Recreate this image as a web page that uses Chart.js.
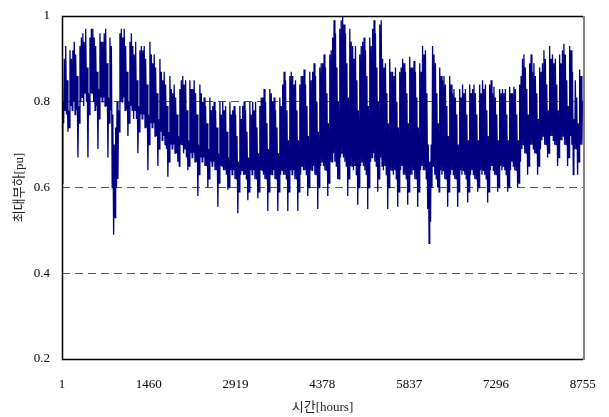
<!DOCTYPE html>
<html>
<head>
<meta charset="utf-8">
<script src="https://cdn.jsdelivr.net/npm/chart.js@4"></script>
<style>
html,body{margin:0;padding:0;background:#fff;}
#wrap{width:609px;height:417px;position:relative;}
</style>
</head>
<body>
<div id="wrap"><canvas id="c" width="609" height="417"></canvas></div>
<script>
// Daily peak load [pu], one row per week (Wed..Tue)
const dayPeak = [
0.80,0.90,0.93,0.85,0.78,0.92,0.90,
0.92,0.94,0.91,0.86,0.79,0.93,0.95,
0.96,0.94,0.97,0.88,0.82,0.95,0.97,
0.97,0.95,0.93,0.87,0.83,0.96,0.94,
0.94,0.96,0.97,0.89,0.81,0.95,0.93,
0.77,0.70,0.74,0.80,0.78,0.96,0.97,
0.95,0.97,0.93,0.87,0.80,0.94,0.96,
0.93,0.91,0.94,0.85,0.79,0.92,0.93,
0.92,0.93,0.90,0.84,0.77,0.94,0.91,
0.89,0.91,0.88,0.82,0.76,0.90,0.87,
0.85,0.87,0.84,0.79,0.73,0.86,0.83,
0.82,0.84,0.81,0.77,0.72,0.83,0.85,
0.86,0.84,0.85,0.78,0.71,0.85,0.83,
0.83,0.85,0.82,0.77,0.70,0.84,0.82,
0.80,0.81,0.79,0.75,0.69,0.81,0.78,
0.79,0.80,0.78,0.74,0.68,0.80,0.77,
0.80,0.78,0.79,0.73,0.67,0.80,0.77,
0.78,0.79,0.77,0.72,0.66,0.79,0.76,
0.79,0.80,0.78,0.73,0.67,0.80,0.77,
0.80,0.78,0.80,0.74,0.68,0.79,0.81,
0.81,0.83,0.80,0.75,0.69,0.83,0.82,
0.80,0.81,0.78,0.74,0.68,0.81,0.79,
0.84,0.87,0.85,0.78,0.71,0.86,0.87,
0.86,0.84,0.85,0.78,0.71,0.84,0.86,
0.86,0.875,0.84,0.79,0.72,0.87,0.85,
0.87,0.89,0.86,0.80,0.73,0.88,0.89,
0.89,0.91,0.88,0.82,0.75,0.91,0.92,
0.95,0.99,0.96,0.88,0.80,0.97,0.99,
1.00,0.98,0.96,0.89,0.81,0.97,0.94,
0.93,0.90,0.93,0.85,0.78,0.91,0.93,
0.94,0.95,0.92,0.86,0.79,0.95,0.93,
0.97,0.99,0.96,0.88,0.80,0.98,0.99,
0.90,0.88,0.89,0.82,0.75,0.90,0.87,
0.87,0.86,0.88,0.80,0.74,0.87,0.88,
0.90,0.89,0.87,0.82,0.75,0.905,0.88,
0.88,0.895,0.87,0.81,0.74,0.89,0.87,
0.93,0.91,0.92,0.82,0.70,0.66,0.70,
0.93,0.91,0.89,0.82,0.75,0.88,0.86,
0.85,0.86,0.84,0.79,0.72,0.86,0.84,
0.82,0.83,0.81,0.77,0.70,0.83,0.81,
0.84,0.82,0.83,0.77,0.71,0.84,0.82,
0.83,0.84,0.82,0.77,0.71,0.84,0.82,
0.85,0.83,0.84,0.78,0.72,0.84,0.85,
0.82,0.835,0.81,0.77,0.71,0.83,0.82,
0.83,0.82,0.83,0.77,0.71,0.835,0.82,
0.82,0.835,0.83,0.77,0.71,0.84,0.86,
0.90,0.91,0.88,0.83,0.77,0.89,0.91,
0.87,0.89,0.86,0.82,0.76,0.88,0.87,
0.89,0.92,0.90,0.84,0.78,0.93,0.90,
0.91,0.89,0.90,0.84,0.78,0.91,0.89,
0.92,0.935,0.91,0.85,0.79,0.93,0.92,
0.87,0.76,0.85,0.81,0.75,0.875,0.86,
0.80
];
// Daily minimum load [pu]
const dayMin = [
0.61,0.75,0.78,0.77,0.73,0.74,0.79,
0.78,0.80,0.77,0.78,0.67,0.75,0.80,
0.81,0.79,0.82,0.80,0.67,0.77,0.82,
0.82,0.80,0.78,0.79,0.69,0.76,0.81,
0.80,0.81,0.79,0.79,0.67,0.75,0.78,
0.60,0.49,0.53,0.60,0.62,0.73,0.80,
0.80,0.81,0.78,0.78,0.72,0.75,0.79,
0.78,0.76,0.78,0.76,0.68,0.73,0.77,
0.76,0.77,0.74,0.74,0.64,0.70,0.75,
0.74,0.75,0.72,0.72,0.65,0.69,0.73,
0.71,0.72,0.70,0.69,0.625,0.66,0.70,
0.69,0.70,0.68,0.68,0.66,0.65,0.70,
0.70,0.68,0.69,0.67,0.64,0.65,0.68,
0.67,0.68,0.66,0.66,0.58,0.63,0.67,
0.66,0.67,0.65,0.65,0.60,0.62,0.66,
0.65,0.66,0.64,0.64,0.555,0.61,0.65,
0.65,0.64,0.64,0.63,0.595,0.60,0.64,
0.63,0.64,0.62,0.62,0.54,0.59,0.63,
0.64,0.63,0.63,0.62,0.57,0.59,0.64,
0.63,0.64,0.62,0.62,0.575,0.59,0.64,
0.64,0.63,0.62,0.62,0.545,0.59,0.63,
0.63,0.64,0.62,0.62,0.545,0.59,0.63,
0.64,0.63,0.63,0.62,0.545,0.59,0.64,
0.63,0.64,0.62,0.62,0.545,0.59,0.63,
0.65,0.64,0.64,0.63,0.58,0.60,0.64,
0.64,0.65,0.63,0.63,0.55,0.60,0.65,
0.66,0.65,0.64,0.64,0.58,0.61,0.66,
0.66,0.68,0.66,0.65,0.62,0.62,0.67,
0.68,0.67,0.66,0.65,0.58,0.62,0.65,
0.65,0.64,0.65,0.63,0.56,0.60,0.65,
0.66,0.65,0.64,0.63,0.55,0.60,0.66,
0.67,0.68,0.66,0.65,0.59,0.62,0.67,
0.65,0.64,0.65,0.63,0.55,0.60,0.64,
0.64,0.63,0.64,0.62,0.555,0.59,0.64,
0.65,0.63,0.63,0.62,0.56,0.59,0.63,
0.63,0.64,0.62,0.62,0.555,0.59,0.64,
0.65,0.64,0.64,0.62,0.55,0.47,0.52,
0.60,0.65,0.63,0.62,0.60,0.59,0.64,
0.63,0.64,0.62,0.62,0.555,0.59,0.63,
0.64,0.63,0.62,0.62,0.555,0.59,0.64,
0.63,0.64,0.63,0.62,0.565,0.59,0.63,
0.64,0.63,0.62,0.62,0.59,0.60,0.64,
0.63,0.64,0.63,0.62,0.565,0.59,0.64,
0.65,0.64,0.63,0.63,0.59,0.60,0.65,
0.64,0.65,0.64,0.63,0.59,0.60,0.64,
0.66,0.65,0.64,0.64,0.60,0.61,0.66,
0.69,0.70,0.68,0.68,0.63,0.65,0.70,
0.70,0.69,0.68,0.68,0.63,0.65,0.69,
0.71,0.72,0.70,0.70,0.67,0.68,0.72,
0.72,0.71,0.70,0.70,0.65,0.67,0.71,
0.71,0.72,0.70,0.70,0.65,0.67,0.72,
0.70,0.63,0.69,0.69,0.63,0.66,0.70,
0.70
];
// Hour of day at which the daily minimum / peak occurs
const minHour = 5;
const peakHour = 15;
const xTickLabels = [1, 1460, 2919, 4378, 5837, 7296, 8755];
const yTickLabels = [0.2, 0.4, 0.6, 0.8, 1];
const dashedLevels = [0.4, 0.6, 0.8];

const points = [];
for (let d = 0; d < dayPeak.length; d++) {
  points.push({x: d * 24 + minHour, y: dayMin[d]});
  points.push({x: d * 24 + peakHour, y: dayPeak[d]});
}

const FONT = "'Liberation Serif', 'Noto Sans CJK KR', serif";

const framePlugin = {
  id: 'frame',
  afterDatasetsDraw(chart) {
    const {ctx, chartArea: a} = chart;
    ctx.save();
    ctx.lineWidth = 1.5;
    ctx.strokeStyle = '#000';
    ctx.beginPath();
    ctx.moveTo(a.right, a.top + 0.5);
    ctx.lineTo(a.left + 0.5, a.top + 0.5);
    ctx.lineTo(a.left + 0.5, a.bottom + 0.5);
    ctx.lineTo(a.right, a.bottom + 0.5);
    ctx.stroke();
    ctx.strokeStyle = '#808080';
    ctx.lineWidth = 2;
    ctx.beginPath();
    ctx.moveTo(a.right + 1, a.top);
    ctx.lineTo(a.right + 1, a.bottom + 1);
    ctx.stroke();
    ctx.restore();
  }
};

new Chart(document.getElementById('c'), {
  type: 'line',
  data: {
    datasets: [{
      data: points,
      borderColor: '#000080',
      borderWidth: 1.3,
      pointRadius: 0,
      tension: 0,
      fill: false
    }]
  },
  options: {
    responsive: false,
    animation: false,
    events: [],
    parsing: false,
    normalized: true,
    layout: {padding: {top: 16, right: 26, left: 0, bottom: 0}},
    plugins: {legend: {display: false}, tooltip: {enabled: false}},
    scales: {
      x: {
        type: 'linear',
        min: 1,
        max: 8760,
        afterBuildTicks: s => { s.ticks = xTickLabels.map(v => ({value: v})); },
        afterFit: s => { s.height = 58; s.paddingLeft = 0; s.paddingRight = 0; },
        grid: {display: false, drawTicks: false},
        border: {display: false},
        ticks: {
          color: '#000',
          font: {family: FONT, size: 13},
          padding: 18,
          maxRotation: 0,
          autoSkip: false,
          callback: v => String(v)
        },
        title: {
          display: true,
          text: '시간[hours]',
          color: '#222',
          font: {family: FONT, size: 13},
          padding: {top: 0, bottom: 2}
        }
      },
      y: {
        type: 'linear',
        min: 0.2,
        max: 1,
        afterBuildTicks: s => { s.ticks = yTickLabels.map(v => ({value: v})); },
        afterFit: s => { s.width = 62; s.paddingTop = 0; s.paddingBottom = 0; },
        grid: {
          drawTicks: false,
          color: c => dashedLevels.some(l => Math.abs(l - c.tick.value) < 1e-6) ? '#555' : 'rgba(0,0,0,0)',
          lineWidth: 1
        },
        border: {display: false, dash: [8, 5]},
        ticks: {
          color: '#000',
          font: {family: FONT, size: 13},
          padding: 12,
          callback: v => String(+v.toFixed(1))
        },
        title: {
          display: true,
          text: '최대부하[pu]',
          color: '#222',
          font: {family: FONT, size: 13},
          padding: {top: 12, bottom: 0}
        }
      }
    }
  },
  plugins: [framePlugin]
});
</script>
</body>
</html>
